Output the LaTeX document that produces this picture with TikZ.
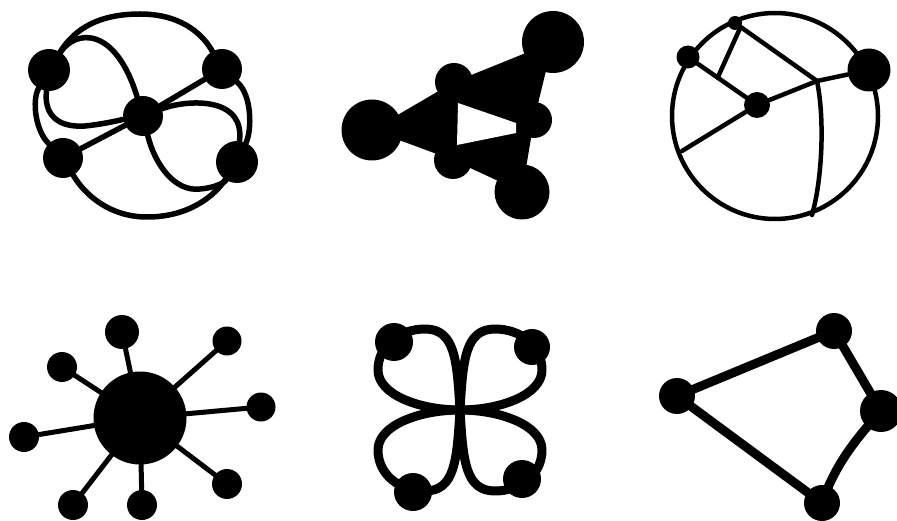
\documentclass[tikz,border=0pt]{standalone}
\usepackage{tikz}
\usetikzlibrary{calc}

\begin{document}
\begin{tikzpicture}[x=1pt,y=-1pt,
	dot/.style={circle,fill=black,inner sep=0pt,minimum size=#1},
	wire/.style={line width=#1,line cap=round,line join=round}]
	\useasboundingbox (0,0) rectangle (897,521);

	\node[dot=42pt] (lt) at (49,70) {};
	\node[dot=40pt] (rt) at (222,69) {};
	\node[dot=40pt] (hub) at (143,116) {};
	\node[dot=40pt] (lb) at (63,158) {};
	\node[dot=42pt] (rb) at (237,162) {};
	\begin{scope}[wire=5.5pt]
		\draw (lt) .. controls (75,28) and (100,14) .. (140,14) .. controls (185,14) and (205,38) .. (rt);
		\draw (rt) .. controls (252,95) and (252,130) .. (rb);
		\draw (lb) .. controls (85,195) and (110,217) .. (147,217) .. controls (190,217) and (215,195) .. (rb);
		\draw (lt) .. controls (32,100) and (35,130) .. (lb);
		\draw (lt) .. controls (75,30) and (115,25) .. (hub);
		\draw (lt) .. controls (44,112) and (55,128) .. (85,126) .. controls (105,124) and (125,119) .. (hub);
		\draw (hub) .. controls (185,100) and (245,95) .. (rb);
		\draw (hub) .. controls (155,165) and (175,192) .. (200,189) .. controls (215,188) and (225,182) .. (rb);
		\draw (hub) -- (rt);
		\draw (hub) -- (lb);
	\end{scope}

	\node[dot=61pt] (bl) at (372,130) {};
	\node[dot=62pt] (tr) at (553,42) {};
	\node[dot=55pt] (br) at (522,192) {};
	\node[dot=38pt] (st) at (454,82) {};
	\node[dot=36pt] (sr) at (534,120) {};
	\node[dot=38pt] (sb) at (453,160) {};
	\fill (bl.center) -- (st.center) -- (tr.center) -- (sr.center) -- (br.center) -- (sb.center) -- cycle;
	\fill[white] (458,103) -- (516,123) -- (516,133) -- (457,145) -- cycle;

	\node[dot=26pt] (mid) at (757,105) {};
	\node[dot=23pt] (lft) at (688,57) {};
	\node[dot=14pt] (top) at (735,23) {};
	\node[dot=43pt] (big) at (869,70) {};
	\coordinate (j) at (817,81);
	\coordinate (w) at (682,151);
	\coordinate (s) at (812,215);
	\begin{scope}[wire=4.5pt]
		\draw (775,116) circle (103pt);
		\draw (lft) -- (mid) -- (j) -- (big);
		\draw (top) -- (j);
		\draw (j) .. controls (825,120) and (822,180) .. (s);
		\draw (mid) -- (w);
		\draw (top.south east) -- ($(lft)!0.43!(mid)$);
	\end{scope}

	\node[dot=93pt] (core) at (140,418) {};
	\foreach \n/\x/\y/\s in {sa/122/332/34pt,sb/227/341/29pt,sc/261/407/29pt,sd/227/484/30pt,
		se/142/505/30pt,sf/73/505/30pt,sg/24/437/30pt,sh/62/367/30pt} {
		\node[dot=\s] (\n) at (\x,\y) {};
		\draw[wire=5pt] (core.center) -- (\n.center);
	}

	\node[dot=38pt] (q1) at (394,342) {};
	\node[dot=36pt] (q2) at (532,347) {};
	\node[dot=38pt] (q3) at (413,492) {};
	\node[dot=38pt] (q4) at (522,479) {};
	\foreach \sx/\sy in {1/1,-1/1,1/-1,-1/-1} {
		\draw[wire=9pt,shift={(460,410)},xscale=\sx,yscale=\sy] (0,0) .. controls (-3,-50) and (-5,-81) .. (-35,-81)
			.. controls (-60,-81) and (-82,-65) .. (-82,-40) .. controls (-82,-15) and (-40,0) .. (0,0);
	}

	\node[dot=36pt] (p1) at (677,396) {};
	\node[dot=36pt] (p2) at (834,331) {};
	\node[dot=42pt] (p3) at (881,411) {};
	\node[dot=36pt] (p4) at (822,503) {};
	\draw[wire=9pt] (p1.center) -- (p2.center) -- (p3.center) .. controls (855,440) and (835,465) .. (p4.center) -- cycle;
\end{tikzpicture}
\end{document}
